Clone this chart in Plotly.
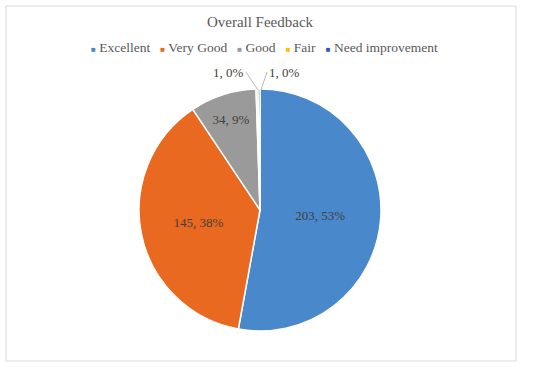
import plotly.graph_objects as go

categories = ["Excellent", "Very Good", "Good", "Fair", "Need improvement"]
counts = [203, 145, 34, 1, 1]
colors = ["#4A88CC", "#E8691F", "#9A9A9A", "#FFC000", "#2E5BB0"]
inside_label = [True, True, True, False, False]

W, H = 537, 367
total = sum(counts)
labels_text = [f"{v}, {round(100 * v / total)}%" for v in counts]

fig = go.Figure(go.Pie(
    labels=categories,
    values=counts,
    sort=False,
    direction="clockwise",
    rotation=0,
    marker=dict(colors=colors, line=dict(color="white", width=1.5)),
    text=[t if ins else "" for t, ins in zip(labels_text, inside_label)],
    textinfo="text",
    textposition="inside",
    insidetextorientation="horizontal",
    textfont=dict(family="Liberation Serif", size=13, color="#404040"),
    domain=dict(x=[139/W, 381/W], y=[1-331/H, 1-89/H]),
    hoverinfo="label+value+percent",
    showlegend=False,
))

# legend built as a single centered line of text
legend_html = "&nbsp;&nbsp;&nbsp;".join(
    f'<span style="color:{c};font-size:8px">■</span> {name}' for name, c in zip(categories, colors)
)

annotations = [
    dict(text=legend_html, x=264/W, xref="paper", xanchor="center", y=1-47/H, yref="paper",
         yanchor="middle", showarrow=False,
         font=dict(family="Liberation Serif", size=13.5, color="#595959")),
    # small slices: labels outside with leader lines
    dict(text=labels_text[3], x=258/W, y=1-90/H, xref="paper", yref="paper",
         showarrow=True, arrowhead=0, arrowwidth=0.8, arrowcolor="#A6A6A6",
         ax=-12, ay=-18, xanchor="right", yanchor="middle",
         font=dict(family="Liberation Serif", size=13, color="#404040")),
    dict(text=labels_text[4], x=261/W, y=1-90/H, xref="paper", yref="paper",
         showarrow=True, arrowhead=0, arrowwidth=0.8, arrowcolor="#A6A6A6",
         ax=6, ay=-18, xanchor="left", yanchor="middle",
         font=dict(family="Liberation Serif", size=13, color="#404040")),
]

fig.update_layout(
    width=W, height=H,
    margin=dict(l=0, r=0, t=0, b=0, autoexpand=False),
    paper_bgcolor="white",
    plot_bgcolor="white",
    title=dict(text="Overall Feedback", x=260/W, xanchor="center", y=1-22/H, yanchor="middle",
               font=dict(family="Liberation Serif", size=15, color="#595959")),
    annotations=annotations,
    shapes=[dict(type="rect", xref="paper", yref="paper", x0=6/W, x1=516/W, y0=1-361/H, y1=1-6/H,
                 line=dict(color="#D9D9D9", width=1))],
)

fig.write_html("out.html", config={"displayModeBar": False},
               post_script="document.body.style.margin='0';document.body.style.padding='0';")
